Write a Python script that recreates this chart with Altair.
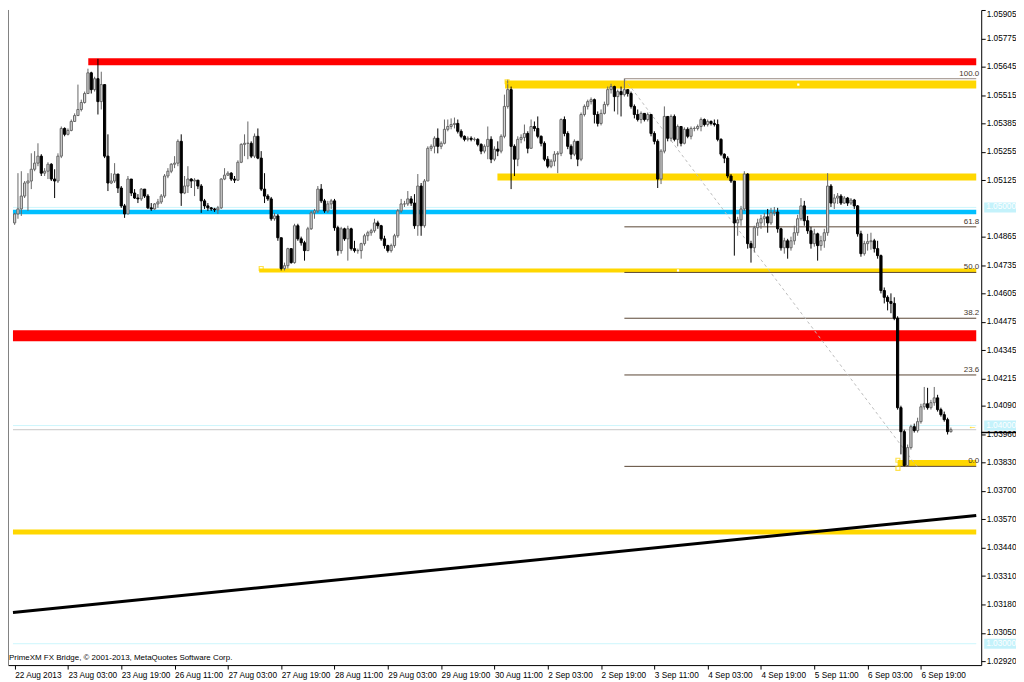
import json
import altair as alt
import pandas as pd

# ---------------- data (H1 candles) ----------------
first_open = 1.04929

closes = [
    1.04970, 1.04993, 1.05052, 1.05112, 1.05121, 1.05175, 1.05203, 1.05235, 1.05157, 1.05166,
    1.05198, 1.05130, 1.05121, 1.05235, 1.05362, 1.05335, 1.05353, 1.05394, 1.05421, 1.05449,
    1.05481, 1.05522, 1.05617, 1.05540, 1.05590, 1.05485, 1.05563, 1.05235, 1.05112, 1.05121,
    1.05153, 1.05089, 1.05007, 1.04970, 1.05130, 1.05066, 1.05043, 1.05039, 1.05084, 1.05052,
    1.04998, 1.04993, 1.05016, 1.05025, 1.05052, 1.05144, 1.05166, 1.05198, 1.05203, 1.05303,
    1.05066, 1.05098, 1.05130, 1.05121, 1.05125, 1.05098, 1.05030, 1.05007, 1.04998, 1.04993,
    1.04989, 1.04998, 1.05130, 1.05148, 1.05157, 1.05130, 1.05125, 1.05207, 1.05289, 1.05294,
    1.05294, 1.05235, 1.05326, 1.05226, 1.05084, 1.05052, 1.05039, 1.04948, 1.04961, 1.04861,
    1.04720, 1.04733, 1.04811, 1.04747, 1.04916, 1.04856, 1.04838, 1.04802, 1.04902, 1.04975,
    1.04984, 1.05084, 1.05030, 1.04984, 1.05016, 1.05030, 1.04907, 1.04802, 1.04902, 1.04856,
    1.04902, 1.04811, 1.04802, 1.04802, 1.04834, 1.04870, 1.04884, 1.04893, 1.04929, 1.04916,
    1.04856, 1.04825, 1.04802, 1.04825, 1.04870, 1.04984, 1.05016, 1.05016, 1.05039, 1.05020,
    1.04916, 1.05098, 1.04916, 1.05121, 1.05271, 1.05280, 1.05317, 1.05280, 1.05294, 1.05358,
    1.05371, 1.05380, 1.05385, 1.05349, 1.05326, 1.05312, 1.05317, 1.05312, 1.05312, 1.05289,
    1.05258, 1.05280, 1.05312, 1.05221, 1.05267, 1.05258, 1.05326, 1.05463, 1.05540, 1.05280,
    1.05221, 1.05312, 1.05321, 1.05339, 1.05271, 1.05371, 1.05362, 1.05326, 1.05294, 1.05221,
    1.05189, 1.05212, 1.05244, 1.05248, 1.05403, 1.05339, 1.05280, 1.05244, 1.05303, 1.05221,
    1.05426, 1.05463, 1.05485, 1.05494, 1.05426, 1.05385, 1.05431, 1.05472, 1.05540, 1.05554,
    1.05508, 1.05531, 1.05517, 1.05540, 1.05522, 1.05463, 1.05426, 1.05403, 1.05431, 1.05403,
    1.05426, 1.05339, 1.05303, 1.05130, 1.05258, 1.05417, 1.05317, 1.05417, 1.05312, 1.05371,
    1.05294, 1.05358, 1.05326, 1.05362, 1.05362, 1.05371, 1.05403, 1.05380, 1.05394, 1.05385,
    1.05380, 1.05312, 1.05244, 1.05226, 1.05144, 1.05121, 1.04929, 1.04943, 1.04993, 1.05153,
    1.04834, 1.04815, 1.04907, 1.04929, 1.04948, 1.04957, 1.04929, 1.04975, 1.04979, 1.04902,
    1.04815, 1.04847, 1.04815, 1.04847, 1.04884, 1.04948, 1.05007, 1.04939, 1.04893, 1.04834,
    1.04879, 1.04825, 1.04847, 1.04884, 1.05098, 1.05020, 1.05043, 1.05052, 1.05020, 1.05043,
    1.05020, 1.05034, 1.05007, 1.04879, 1.04788, 1.04834, 1.04843, 1.04847, 1.04811, 1.04779,
    1.04619, 1.04588, 1.04569, 1.04560, 1.04492, 1.04082, 1.03972, 1.03817, 1.03899, 1.03995,
    1.03977, 1.04018, 1.04086, 1.04100, 1.04082, 1.04105, 1.04127, 1.04073, 1.04050, 1.04027,
    1.03972, 1.03981,
]

highs = [
    1.04975, 1.05157, 1.05166, 1.05121, 1.05157, 1.05248, 1.05258, 1.05294, 1.05244, 1.05180,
    1.05207, 1.05203, 1.05175, 1.05248, 1.05371, 1.05367, 1.05362, 1.05403, 1.05431, 1.05563,
    1.05494, 1.05531, 1.05636, 1.05622, 1.05599, 1.05681, 1.05622, 1.05545, 1.05335, 1.05157,
    1.05203, 1.05153, 1.05098, 1.05016, 1.05144, 1.05107, 1.05084, 1.05061, 1.05089, 1.05084,
    1.05061, 1.05020, 1.05020, 1.05039, 1.05061, 1.05153, 1.05180, 1.05203, 1.05235, 1.05312,
    1.05335, 1.05144, 1.05189, 1.05134, 1.05134, 1.05125, 1.05107, 1.05039, 1.05020, 1.05002,
    1.04998, 1.05007, 1.05134, 1.05180, 1.05166, 1.05162, 1.05144, 1.05216, 1.05294, 1.05335,
    1.05394, 1.05303, 1.05339, 1.05362, 1.05258, 1.05157, 1.05061, 1.05048, 1.04975, 1.04970,
    1.04856, 1.04747, 1.04815, 1.04802, 1.04925, 1.04925, 1.04866, 1.04847, 1.04911, 1.04984,
    1.04993, 1.05098, 1.05107, 1.05039, 1.05030, 1.05039, 1.05039, 1.04916, 1.04911, 1.04907,
    1.04916, 1.04907, 1.04847, 1.04811, 1.04838, 1.04879, 1.04893, 1.04902, 1.04948, 1.04939,
    1.04920, 1.04870, 1.04829, 1.04834, 1.04879, 1.04993, 1.05039, 1.05030, 1.05075, 1.05052,
    1.05061, 1.05153, 1.05112, 1.05130, 1.05280, 1.05289, 1.05326, 1.05362, 1.05303, 1.05403,
    1.05403, 1.05408, 1.05412, 1.05403, 1.05358, 1.05330, 1.05326, 1.05326, 1.05321, 1.05317,
    1.05294, 1.05289, 1.05371, 1.05326, 1.05280, 1.05303, 1.05335, 1.05517, 1.05586, 1.05554,
    1.05289, 1.05326, 1.05335, 1.05380, 1.05349, 1.05403, 1.05394, 1.05417, 1.05330, 1.05303,
    1.05235, 1.05221, 1.05258, 1.05258, 1.05408, 1.05417, 1.05349, 1.05289, 1.05312, 1.05303,
    1.05435, 1.05472, 1.05494, 1.05504, 1.05499, 1.05440, 1.05449, 1.05485, 1.05554, 1.05567,
    1.05558, 1.05540, 1.05554, 1.05590, 1.05540, 1.05531, 1.05472, 1.05449, 1.05440, 1.05431,
    1.05435, 1.05426, 1.05349, 1.05312, 1.05267, 1.05463, 1.05417, 1.05426, 1.05426, 1.05380,
    1.05371, 1.05367, 1.05367, 1.05371, 1.05371, 1.05380, 1.05412, 1.05408, 1.05403, 1.05399,
    1.05403, 1.05403, 1.05317, 1.05248, 1.05235, 1.05153, 1.05121, 1.04957, 1.05007, 1.05166,
    1.05157, 1.04847, 1.04916, 1.04948, 1.04966, 1.04975, 1.04993, 1.04998, 1.05002, 1.04998,
    1.04907, 1.04861, 1.04856, 1.04866, 1.04916, 1.04966, 1.05043, 1.05030, 1.04961, 1.04911,
    1.04902, 1.04884, 1.04870, 1.04902, 1.05157, 1.05107, 1.05061, 1.05066, 1.05061, 1.05052,
    1.05048, 1.05043, 1.05039, 1.05011, 1.04893, 1.04847, 1.04879, 1.04884, 1.04856, 1.04847,
    1.04784, 1.04633, 1.04597, 1.04606, 1.04588, 1.04501, 1.04091, 1.03981, 1.03913, 1.04004,
    1.04009, 1.04036, 1.04100, 1.04177, 1.04173, 1.04118, 1.04177, 1.04141, 1.04082, 1.04064,
    1.04036, 1.03991,
]

lows = [
    1.04920, 1.04948, 1.04961, 1.05043, 1.04984, 1.05084, 1.05166, 1.05189, 1.05144, 1.05144,
    1.05130, 1.05121, 1.05043, 1.05112, 1.05226, 1.05326, 1.05330, 1.05349, 1.05394, 1.05421,
    1.05440, 1.05476, 1.05522, 1.05522, 1.05531, 1.05426, 1.05449, 1.05226, 1.05075, 1.05107,
    1.05112, 1.05066, 1.04998, 1.04952, 1.04970, 1.05052, 1.05039, 1.05020, 1.05030, 1.05043,
    1.04993, 1.04984, 1.04989, 1.04998, 1.05016, 1.05043, 1.05134, 1.05157, 1.05180, 1.05189,
    1.05007, 1.05061, 1.05066, 1.05089, 1.05052, 1.05084, 1.04975, 1.04993, 1.04984, 1.04984,
    1.04979, 1.04970, 1.04993, 1.05125, 1.05144, 1.05121, 1.05112, 1.05121, 1.05203, 1.05235,
    1.05221, 1.05226, 1.05226, 1.05221, 1.05075, 1.05020, 1.05030, 1.04939, 1.04939, 1.04847,
    1.04711, 1.04711, 1.04720, 1.04742, 1.04742, 1.04847, 1.04825, 1.04756, 1.04802, 1.04897,
    1.04948, 1.04975, 1.05020, 1.04975, 1.04975, 1.04993, 1.04893, 1.04779, 1.04788, 1.04847,
    1.04756, 1.04802, 1.04793, 1.04788, 1.04765, 1.04825, 1.04847, 1.04870, 1.04884, 1.04902,
    1.04847, 1.04811, 1.04793, 1.04793, 1.04815, 1.04861, 1.04975, 1.05002, 1.05007, 1.05007,
    1.04902, 1.04870, 1.04870, 1.04907, 1.05121, 1.05258, 1.05248, 1.05248, 1.05267, 1.05289,
    1.05349, 1.05358, 1.05362, 1.05339, 1.05317, 1.05303, 1.05303, 1.05303, 1.05303, 1.05280,
    1.05244, 1.05248, 1.05221, 1.05203, 1.05212, 1.05235, 1.05248, 1.05317, 1.05453, 1.05084,
    1.05144, 1.05189, 1.05294, 1.05303, 1.05248, 1.05271, 1.05349, 1.05317, 1.05280, 1.05212,
    1.05180, 1.05180, 1.05189, 1.05157, 1.05235, 1.05326, 1.05267, 1.05221, 1.05235, 1.05189,
    1.05212, 1.05417, 1.05449, 1.05472, 1.05385, 1.05371, 1.05376, 1.05426, 1.05463, 1.05522,
    1.05440, 1.05426, 1.05417, 1.05508, 1.05508, 1.05453, 1.05408, 1.05394, 1.05385, 1.05394,
    1.05394, 1.05326, 1.05289, 1.05089, 1.05107, 1.05248, 1.05303, 1.05303, 1.05303, 1.05280,
    1.05280, 1.05289, 1.05317, 1.05312, 1.05349, 1.05353, 1.05349, 1.05371, 1.05371, 1.05376,
    1.05371, 1.05303, 1.05235, 1.05203, 1.05134, 1.05112, 1.04779, 1.04870, 1.04916, 1.04984,
    1.04811, 1.04747, 1.04793, 1.04870, 1.04902, 1.04916, 1.04884, 1.04920, 1.04961, 1.04884,
    1.04802, 1.04788, 1.04765, 1.04802, 1.04829, 1.04870, 1.04939, 1.04916, 1.04879, 1.04811,
    1.04820, 1.04756, 1.04802, 1.04815, 1.04870, 1.05002, 1.04993, 1.05016, 1.05011, 1.05016,
    1.05007, 1.05011, 1.04993, 1.04866, 1.04774, 1.04779, 1.04802, 1.04806, 1.04793, 1.04765,
    1.04606, 1.04560, 1.04528, 1.04515, 1.04483, 1.04073, 1.03868, 1.03813, 1.03816, 1.03890,
    1.03968, 1.03968, 1.04009, 1.04073, 1.04073, 1.04073, 1.04091, 1.04064, 1.04041, 1.04018,
    1.03959, 1.03968,
]

x_labels = [
    "22 Aug 2013", "23 Aug 03:00", "23 Aug 19:00", "26 Aug 11:00", "27 Aug 03:00",
    "27 Aug 19:00", "28 Aug 11:00", "29 Aug 03:00", "29 Aug 19:00", "30 Aug 11:00",
    "2 Sep 03:00", "2 Sep 19:00", "3 Sep 11:00", "4 Sep 03:00", "4 Sep 19:00",
    "5 Sep 11:00", "6 Sep 03:00", "6 Sep 19:00",
]
bars_per_label = 16

price_ticks = [
    1.05905, 1.05775, 1.05645, 1.05515, 1.05385, 1.05255, 1.05125, 1.04865, 1.04735,
    1.04605, 1.04475, 1.04345, 1.04215, 1.04090, 1.03960, 1.03830, 1.03700, 1.03570,
    1.03440, 1.03310, 1.03180, 1.03050, 1.02920,
]

# horizontal objects drawn on the chart
RED, YEL, CYAN, PALE = "#ff0000", "#ffd700", "#00bfff", "#cdf6fc"
XMIN, XMAX = -0.5, 288.6
YMIN, YMAX = 1.02902, 1.05905

line_start = [XMIN, XMIN, XMIN, XMIN, 22.1, 147.2, 144.9, XMIN, 73.4, XMIN, XMIN, 265.0]
line_price = [1.05000, 1.04000, 1.03000, 1.03981, 1.05668, 1.05563, 1.05139, 1.04979,
              1.04711, 1.04412, 1.03512, 1.03828]
line_color = [PALE, PALE, PALE, "#c8c8c8", RED, YEL, YEL, CYAN, YEL, RED, YEL, YEL]
line_width = [1, 1, 1, 1, 7, 8, 7, 4.5, 4, 11, 5, 6]

trend_x = [XMIN, XMAX]
trend_p = [1.03143, 1.03588]

fib_start = 183.0
fib_labels = ["100.0", "61.8", "50.0", "38.2", "23.6", "0.0"]
fib_prices = [1.05590, 1.04911, 1.04702, 1.04492, 1.04232, 1.03813]
fib_colors = ["#9a8c84", "#5a4634", "#5a4634", "#5a4634", "#5a4634", "#5a4634"]
fib_diag_x = [183.0, 270.8]
fib_diag_p = [1.05590, 1.03813]

square_x = [74.0, 147.8, 265.1, 265.1]
square_p = [1.04720, 1.05576, 1.03841, 1.03804]
dot_x = [199.1, 235.2]
dot_p = [1.04711, 1.05563]

box_labels = ["1.05000", "1.04000", "1.03000"]
box_prices = [1.05000, 1.04000, 1.03000]
bid_marker_price = 1.03968
arrow_price = 1.04000

copyright_text = "PrimeXM FX Bridge, \u00a9 2001-2013, MetaQuotes Software Corp."

# ---------------- build tables ----------------
n = len(closes)
opens = [first_open] + closes[:-1]
rows = []
for i in range(n):
    o, c = opens[i], closes[i]
    bull = c >= o
    rows.append(dict(i=i, o=o, c=c, h=max(highs[i], o, c), l=min(lows[i], o, c),
                     wc="#666666" if bull else "#000000",
                     bf="#d4d4d4" if bull else "#000000"))
candles = pd.DataFrame(rows)

lines_df = pd.DataFrame(dict(x=line_start, x2=[XMAX] * len(line_start), p=line_price,
                             col=line_color, w=line_width))
trend_df = pd.DataFrame(dict(x=[trend_x[0]], x2=[trend_x[1]], p=[trend_p[0]], p2=[trend_p[1]]))
fib_df = pd.DataFrame(dict(x=[fib_start] * len(fib_prices), x2=[XMAX] * len(fib_prices),
                           p=fib_prices, t=fib_labels, col=fib_colors))
diag_df = pd.DataFrame(dict(x=[fib_diag_x[0]], x2=[fib_diag_x[1]], p=[fib_diag_p[0]], p2=[fib_diag_p[1]]))
sq_df = pd.DataFrame(dict(x=square_x, p=square_p))
dot_df = pd.DataFrame(dict(x=dot_x, p=dot_p))
box_df = pd.DataFrame(dict(t=box_labels, p=box_prices,
                           lo=[b - 0.00023 for b in box_prices], hi=[b + 0.00023 for b in box_prices]))
bid_df = pd.DataFrame(dict(p=[bid_marker_price]))
arrow_df = pd.DataFrame(dict(p=[arrow_price], t=["\u2190"]))

# ---------------- scales / axes ----------------
FONT = "Liberation Sans"
FS = 8.3
xs = alt.Scale(domain=[XMIN, XMAX], nice=False, zero=False)
ys = alt.Scale(domain=[YMIN, YMAX], nice=False, zero=False)
label_js = "[" + ",".join(json.dumps(s) for s in x_labels) + "]"
xaxis = alt.Axis(values=[k * bars_per_label for k in range(len(x_labels))],
                 labelExpr=label_js + f"[round(datum.value / {bars_per_label})]",
                 orient="bottom", title=None, grid=False, tickSize=4, labelAlign="left",
                 labelPadding=1, labelOverlap=False, labelFont=FONT,
                 labelFontSize=FS, labelColor="#000000", tickColor="#000000",
                 domainColor="#000000")
yaxis = alt.Axis(values=price_ticks, labelExpr="format(datum.value, '.5f')", orient="right",
                 title=None, grid=False, tickSize=4, labelPadding=1, labelOverlap=False,
                 labelFlush=True, labelFont=FONT, labelFontSize=FS, labelColor="#000000",
                 tickColor="#000000", domainColor="#000000")

X = lambda f: alt.X(f, scale=xs, axis=xaxis)
Y = lambda f: alt.Y(f, scale=ys, axis=yaxis)

W, H = 979, 659

left_border = alt.Chart(pd.DataFrame(dict(a=[0]))).mark_rule(color="#808080", strokeWidth=1).encode(
    x=alt.value(0.5), y=alt.value(0), y2=alt.value(H))

hlines = alt.Chart(lines_df).mark_rule(strokeCap="butt").encode(
    x=X("x:Q"), x2="x2:Q", y=Y("p:Q"),
    color=alt.Color("col:N", scale=None), strokeWidth=alt.StrokeWidth("w:Q", scale=None))

trend = alt.Chart(trend_df).mark_rule(color="#000000", strokeWidth=3).encode(
    x=X("x:Q"), x2="x2:Q", y=Y("p:Q"), y2="p2:Q")

fib_lines = alt.Chart(fib_df).mark_rule(strokeWidth=1).encode(
    x=X("x:Q"), x2="x2:Q", y=Y("p:Q"), color=alt.Color("col:N", scale=None))

fib_diag = alt.Chart(diag_df).mark_rule(color="#bcbcbc", strokeWidth=1, strokeDash=[3, 3]).encode(
    x=X("x:Q"), x2="x2:Q", y=Y("p:Q"), y2="p2:Q")

wicks = alt.Chart(candles).mark_rule(strokeWidth=1).encode(
    x=X("i:Q"), y=Y("l:Q"), y2="h:Q", color=alt.Color("wc:N", scale=None))

bodies = alt.Chart(candles).mark_bar(size=2.2, strokeWidth=1).encode(
    x=X("i:Q"), y=Y("o:Q"), y2="c:Q",
    fill=alt.Fill("bf:N", scale=None), stroke=alt.Stroke("wc:N", scale=None))

squares = alt.Chart(sq_df).mark_point(shape="square", size=16, filled=False, color=YEL,
                                      strokeWidth=1.2).encode(x=X("x:Q"), y=Y("p:Q"))
dots = alt.Chart(dot_df).mark_square(size=5, color="#ffffff", opacity=1).encode(
    x=X("x:Q"), y=Y("p:Q"))

fib_text = alt.Chart(fib_df).mark_text(align="right", baseline="bottom", dy=-1, fontSize=8,
                                       font=FONT, color="#45372a").encode(
    x=alt.value(W - 2), y=Y("p:Q"), text="t:N")

boxes = alt.Chart(box_df).mark_rect(color="#c4f2fb").encode(
    x=alt.value(W + 3), x2=alt.value(W + 36), y=Y("lo:Q"), y2="hi:Q")
box_text = alt.Chart(box_df).mark_text(align="left", baseline="middle", fontSize=FS, font=FONT,
                                       color="#ffffff").encode(
    x=alt.value(W + 5), y=Y("p:Q"), text="t:N")

bid_mark = alt.Chart(bid_df).mark_rule(color="#000000", strokeWidth=1.6).encode(
    x=alt.value(W), x2=alt.value(W + 36), y=Y("p:Q"))

arrow = alt.Chart(arrow_df).mark_text(align="right", baseline="middle", fontSize=9, font=FONT,
                                      color=YEL, fontWeight="bold").encode(
    x=alt.value(W - 4), y=Y("p:Q"), text="t:N")

copyright = alt.Chart(pd.DataFrame(dict(t=[copyright_text]))).mark_text(
    align="left", baseline="middle", fontSize=8, font=FONT, color="#000000").encode(
    x=alt.value(1), y=alt.value(H - 7), text="t:N")

chart = alt.layer(
    left_border, hlines, trend, fib_lines, fib_diag, wicks, bodies, squares, dots,
    fib_text, boxes, box_text, bid_mark, arrow, copyright,
).properties(
    width=W, height=H,
    padding={"left": 0, "top": 0, "right": 35, "bottom": 15},
    autosize=alt.AutoSizeParams(type="none"),
    background="#ffffff",
).configure_view(stroke=None)

chart.save("out.html", embed_options={"renderer": "svg", "actions": False})
